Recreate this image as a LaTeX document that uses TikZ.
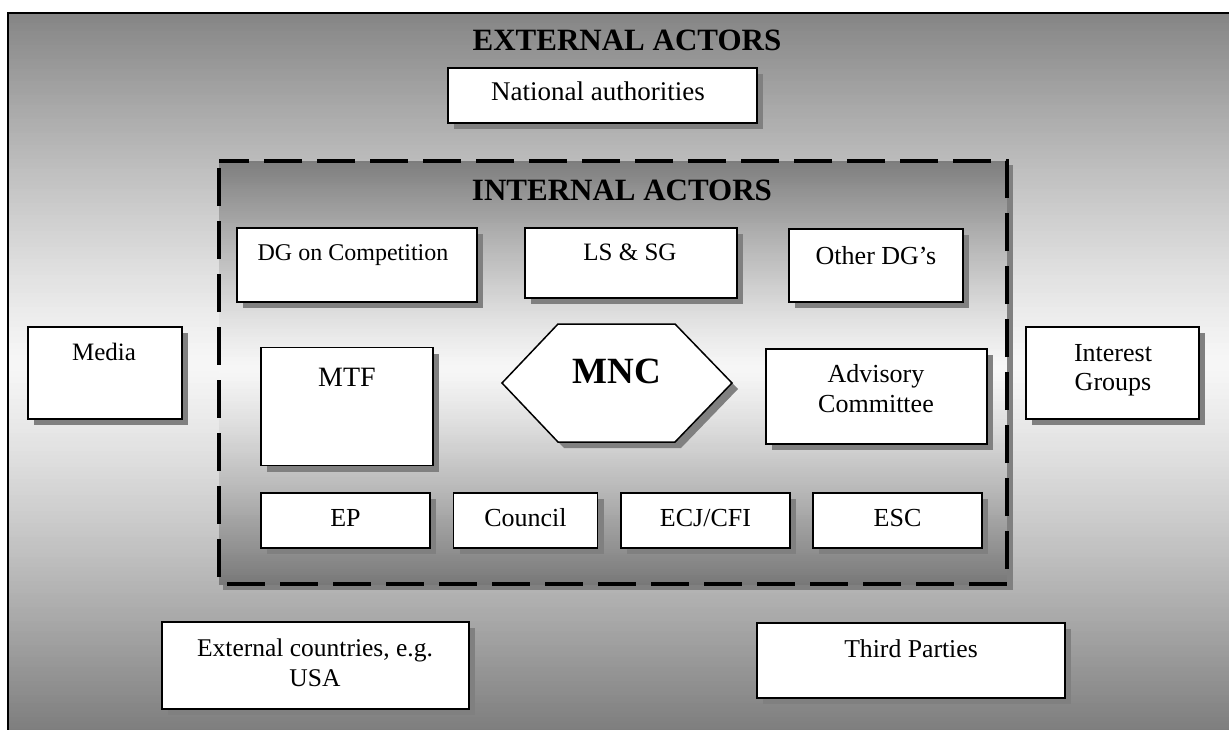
\documentclass[tikz,border=0pt]{standalone}
\usepackage{fontspec}
\setmainfont{Liberation Serif}
\usetikzlibrary{shadows}
\definecolor{shadowgray}{HTML}{808080}
\definecolor{edgegray}{HTML}{777777}
\definecolor{paleband}{HTML}{F6F6F6}
\newcommand{\fs}[1]{\fontsize{#1}{#1}\selectfont}
% vertical band: dark at top and bottom, pale at the middle row
% #1,#2 = left,right   #3,#4 = top,bottom   #5 = pale row
\newcommand{\grayband}[5]{%
  \pgfmathsetmacro\bandhalf{max(#5-#3,#4-#5)}%
  \foreach \yy in {#3,\the\numexpr#3+2\relax,...,#4}{%
    \pgfmathsetmacro\bandt{min(max(abs(\yy-#5)/\bandhalf,0.001),1)}%
    \pgfmathtruncatemacro\bandp{100*\bandt^1.2}%
    \fill[edgegray!\bandp!paleband] (#1,\yy) rectangle (#2,\yy+2.6);
  }%
}
\tikzset{
  boxshadow/.style={drop shadow={shadow xshift=6pt, shadow yshift=-6pt, fill=shadowgray, opacity=1}},
  actorbox/.style={draw=black, line width=1.5pt, fill=white, inner sep=0pt, boxshadow},
  txt/.style={inner sep=0pt, anchor=base, align=center},
  heading/.style={txt, font=\bfseries\fs{31}},
}
\begin{document}
\begin{tikzpicture}[x=1pt, y=-1pt]
\useasboundingbox (0,0) rectangle (1229,729);
\clip (0,0) rectangle (1229,729);

% outer field of external actors
\grayband{8}{1245}{13}{745}{362}
\draw[line width=1.5pt] (1245,13) -- (8,13) -- (8,745);
\node[heading] (extitle) at (627,50) {EXTERNAL ACTORS};

% inner dashed area of internal actors
\fill[shadowgray] (223,165) rectangle (1013,590);
\begin{scope}
  \clip (219,161) rectangle (1007,584);
  \grayband{219}{1007}{161}{584}{368}
\end{scope}
\draw[line width=4.5pt, dash pattern=on 38pt off 15pt, dash phase=-7pt] (219,161) rectangle (1007,584);
\node[heading] (intitle) at (622,200) {INTERNAL ACTORS};

% external actor boxes
\node[actorbox, minimum width=309pt, minimum height=55pt] (nat) at (602.5,95.5) {};
\node[txt, font=\fs{27}] (natT) at (598,100) {National authorities};

\node[actorbox, minimum width=154pt, minimum height=92pt] (media) at (105,373) {};
\node[txt, font=\fs{25}] (mediaT) at (104,360) {Media};

\node[actorbox, minimum width=173pt, minimum height=92pt] (ig) at (1112.5,373) {};
\node[txt, font=\fs{26}] (igT1) at (1113,361) {Interest};
\node[txt, font=\fs{26}] (igT2) at (1113,390) {Groups};

\node[actorbox, minimum width=307pt, minimum height=87pt] (ext) at (315.5,665.5) {};
\node[txt, font=\fs{25.5}] (extT1) at (315,656) {External countries, e.g.};
\node[txt, font=\fs{25.5}] (extT2) at (315,686) {USA};

\node[actorbox, minimum width=308pt, minimum height=75pt] (third) at (911,660.5) {};
\node[txt, font=\fs{25.7}] (thirdT) at (911,657) {Third Parties};

% internal actor boxes
\node[actorbox, minimum width=240pt, minimum height=74pt] (dgc) at (357,265) {};
\node[txt, font=\fs{24}] (dgcT) at (353,260) {DG on Competition};

\node[actorbox, minimum width=212pt, minimum height=70pt] (lssg) at (631,263) {};
\node[txt, font=\fs{25}] (lssgT) at (630,260) {LS \& SG};

\node[actorbox, minimum width=174pt, minimum height=73pt] (odg) at (876,265.5) {};
\node[txt, font=\fs{26}] (odgT) at (876,264) {Other DG’s};

\node[actorbox, minimum width=172pt, minimum height=118pt] (mtf) at (347,406.5) {};
\node[txt, font=\fs{28}] (mtfT) at (347,386) {MTF};

\node[actorbox, minimum width=221pt, minimum height=95pt] (adv) at (876.5,396.5) {};
\node[txt, font=\fs{26}] (advT1) at (876,382) {Advisory};
\node[txt, font=\fs{26}] (advT2) at (876,412) {Committee};

% central hexagon
\draw[line width=1.5pt, fill=white, boxshadow]
  (502,383) -- (558,324) -- (675,324) -- (732,383) -- (675,442) -- (558,442) -- cycle;
\node[txt, font=\bfseries\fs{37}] (mnc) at (617,383) {MNC};

% bottom row of institutions
\node[actorbox, minimum width=169pt, minimum height=55pt] (ep) at (345.5,520.5) {};
\node[txt, font=\fs{26}] (epT) at (345.5,526) {EP};
\node[actorbox, minimum width=144pt, minimum height=55pt] (council) at (525.5,520.5) {};
\node[txt, font=\fs{26}] (councilT) at (525.5,526) {Council};
\node[actorbox, minimum width=169pt, minimum height=55pt] (ecj) at (705.5,520.5) {};
\node[txt, font=\fs{26}] (ecjT) at (705.5,526) {ECJ/CFI};
\node[actorbox, minimum width=169pt, minimum height=55pt] (esc) at (897.5,520.5) {};
\node[txt, font=\fs{26}] (escT) at (897.5,526) {ESC};
\end{tikzpicture}
\end{document}
